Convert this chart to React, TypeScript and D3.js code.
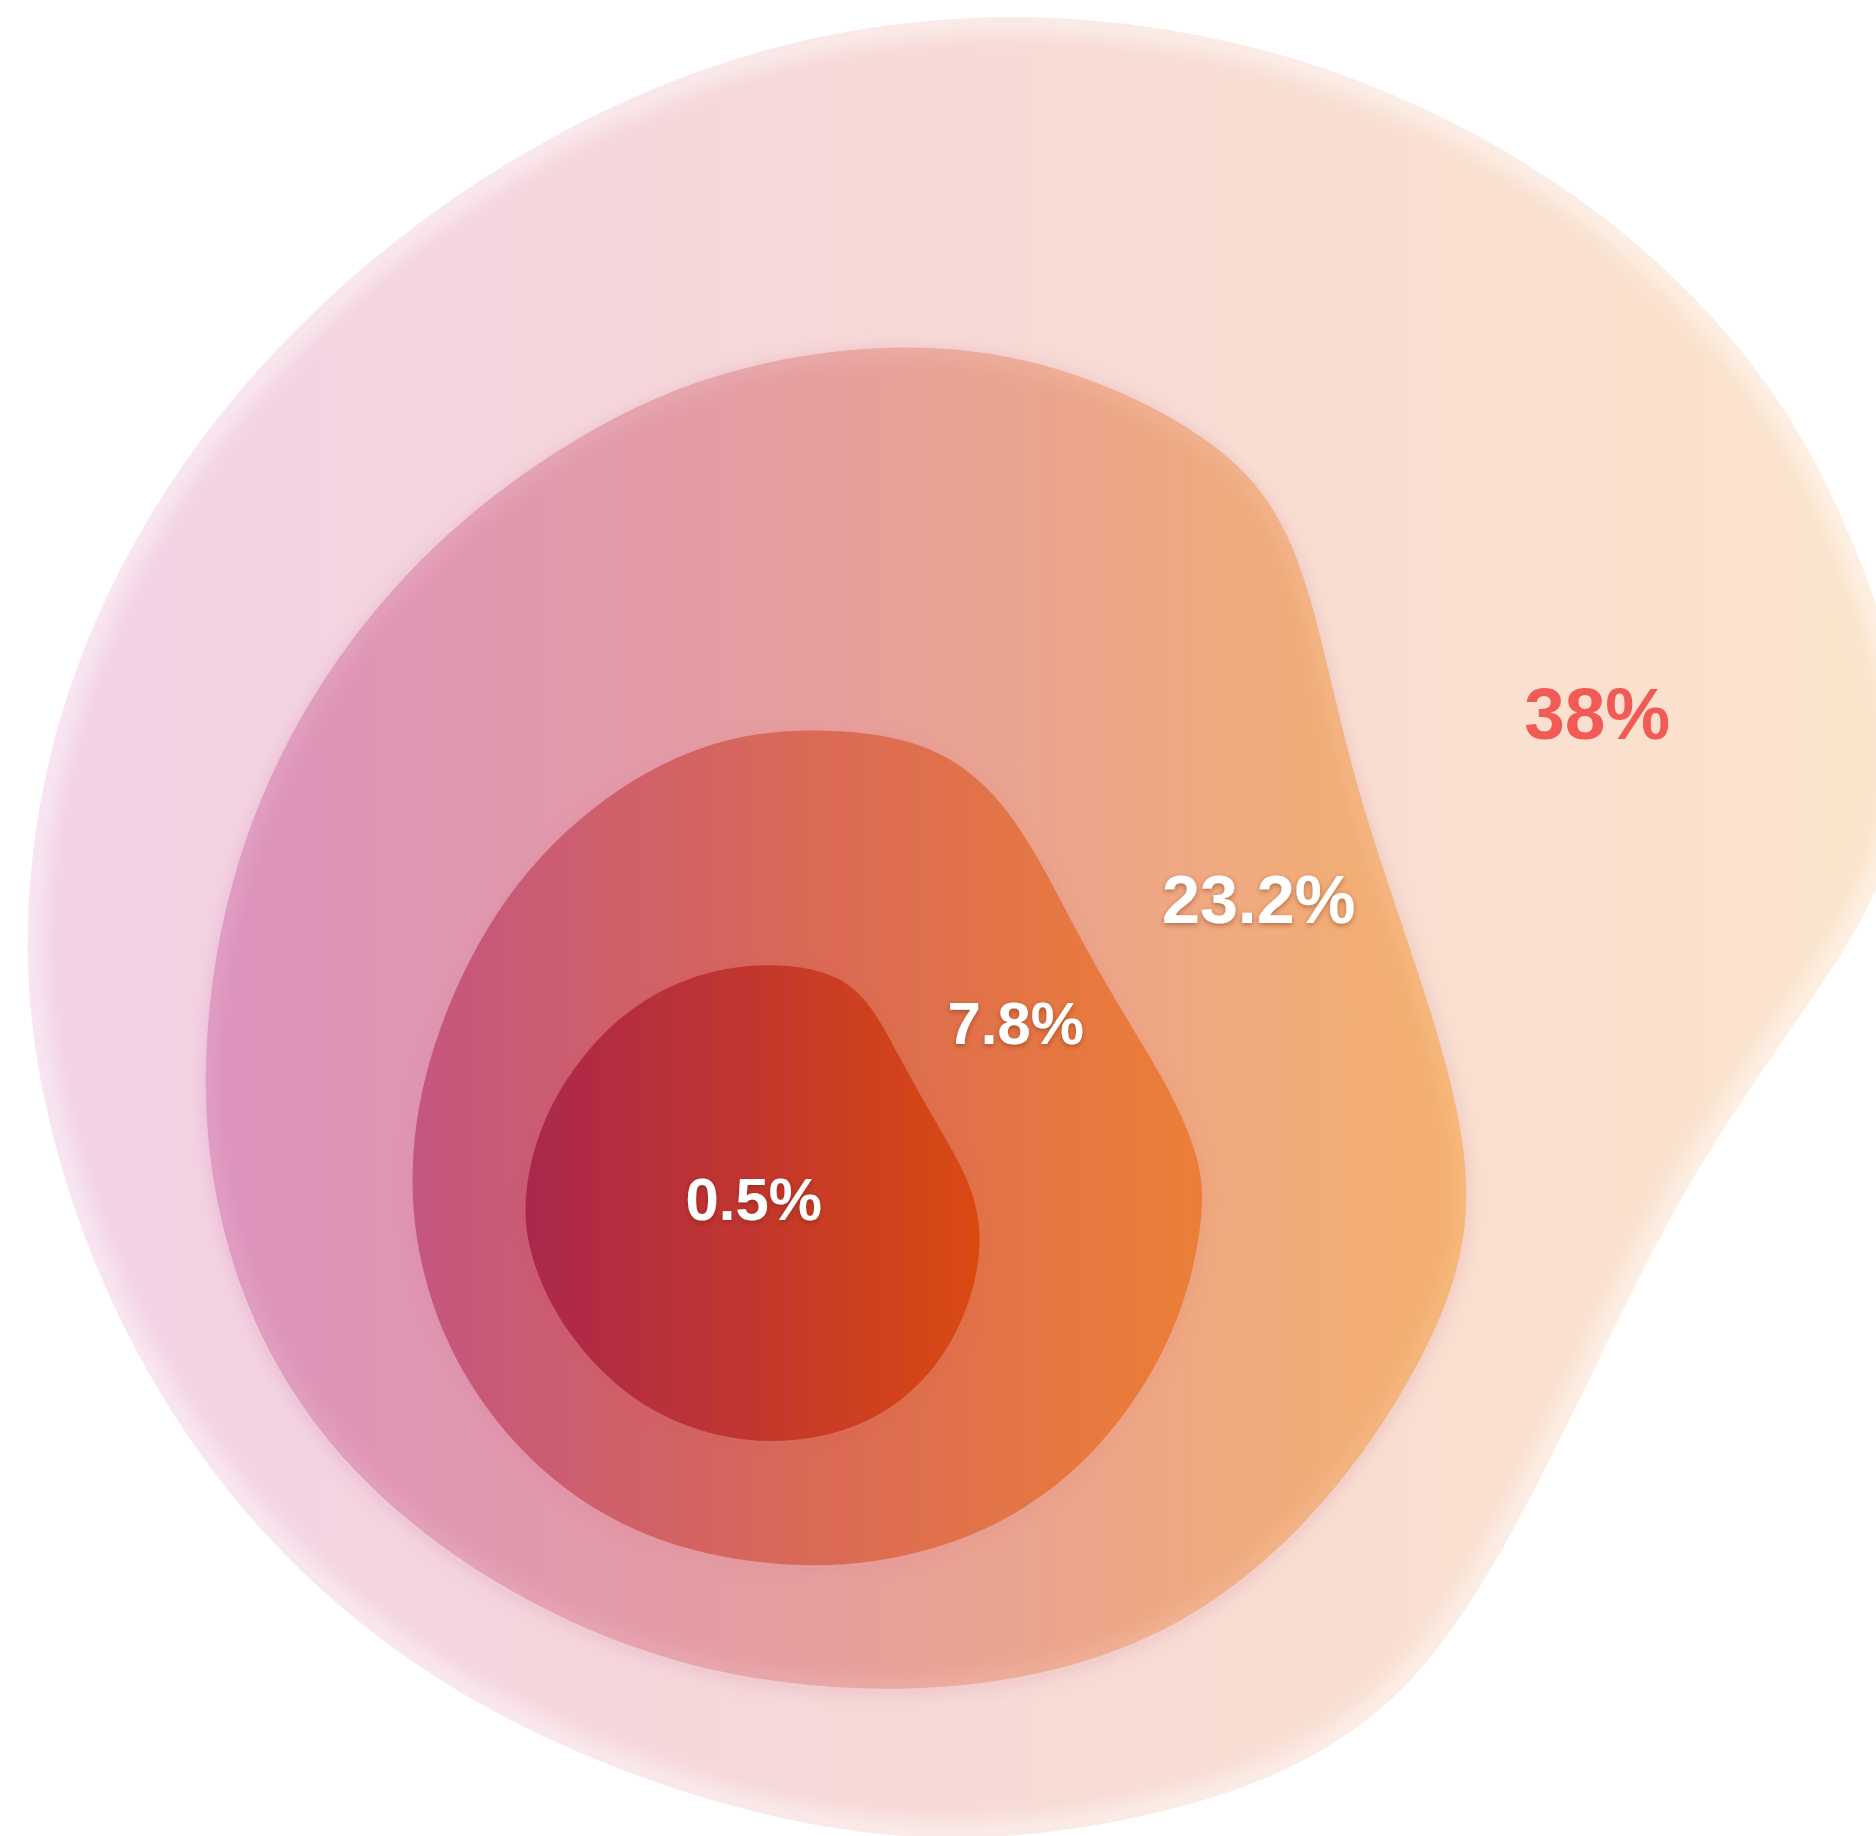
import React, { useEffect, useRef } from 'react';
import * as d3 from 'd3';

// share of each nested region, outermost first
const values = [38, 23.2, 7.8, 0.5];
const labels = ['38%', '23.2%', '7.8%', '0.5%'];

// left -> mid -> right colours of each region
const fills = [
  ['#f2d1e7', '#f6d9d8', '#fbe4cb'],
  ['#dc92bd', '#e79f9d', '#f5b06c'],
  ['#c4567f', '#da6957', '#ec7f36'],
  ['#aa284c', '#c2362e', '#da4a10'],
];
const midStop = ['42%', '50%', '50%', '50%'];
const labelColors = ['#f15a55', '#ffffff', '#ffffff', '#ffffff'];

// outlines (reference units 1568 x 1535)
const outerShape: [number, number][] = [
  [830, 8], [1000, 24], [1150, 68], [1300, 146], [1420, 246], [1505, 355], [1562, 480],
  [1605, 620], [1575, 745], [1512, 838], [1452, 925], [1400, 1008], [1350, 1108],
  [1300, 1212], [1250, 1308], [1195, 1392], [1130, 1452], [1040, 1498], [920, 1528],
  [790, 1542], [640, 1522], [480, 1468], [350, 1398], [240, 1308], [150, 1198], [80, 1068],
  [36, 932], [18, 800], [32, 655], [74, 522], [145, 392], [245, 272], [360, 175],
  [490, 95], [650, 32],
];
const midShape: [number, number][] = [
  [730, 286], [845, 294], [950, 330], [1034, 382], [1076, 440], [1099, 510], [1117, 590],
  [1138, 672], [1168, 762], [1202, 862], [1224, 950], [1228, 1020], [1212, 1088],
  [1172, 1168], [1110, 1256], [1030, 1332], [940, 1382], [830, 1410], [700, 1415],
  [560, 1393], [425, 1335], [303, 1246], [218, 1132], [175, 1000], [168, 870],
  [192, 725], [250, 592], [335, 478], [445, 385], [580, 312],
];
const innerShape: [number, number][] = [
  [680, 608], [764, 616], [822, 650], [862, 705], [894, 768], [934, 840], [978, 910],
  [1003, 968], [1007, 1010], [994, 1082], [962, 1155], [902, 1232], [822, 1284],
  [730, 1309], [640, 1310], [540, 1289], [450, 1234], [381, 1147], [348, 1055],
  [341, 965], [362, 862], [420, 745], [505, 662], [598, 616],
];
const coreShape: [number, number][] = [
  [630, 804], [692, 810], [726, 834], [752, 885], [782, 938], [810, 985], [822, 1030],
  [814, 1084], [786, 1143], [735, 1188], [670, 1207], [600, 1204], [528, 1174],
  [471, 1114], [442, 1052], [436, 1000], [454, 928], [504, 858], [566, 818],
];
const outlines = [outerShape, midShape, innerShape, coreShape];

// label anchors (centre x, baseline y) and sizes
const labelPos: [number, number][] = [[1335, 618], [1052, 772], [849, 873], [630, 1020]];
const labelSize = [61, 57, 50, 50];

// edge treatment per region
const rimWidth = [34, 20, 0, 0];
const rimOpacity = [0.45, 0.12, 0, 0];
const shadowOpacity = [0, 0.14, 0.07, 0.05];

const W = 1876;
const H = 1836;

const App = () => {
  const ref = useRef<SVGSVGElement>(null);

  useEffect(() => {
    document.body.style.margin = '0';
    const svg = d3.select(ref.current);
    svg.selectAll('*').remove();

    const x = d3.scaleLinear().domain([0, 1568]).range([0, W]);
    const y = d3.scaleLinear().domain([0, 1535]).range([0, H]);
    const k = W / 1568;

    const line = d3.line<[number, number]>()
      .x(d => x(d[0]))
      .y(d => y(d[1]))
      .curve(d3.curveBasisClosed);

    const defs = svg.append('defs');

    fills.forEach((f, i) => {
      const g = defs.append('linearGradient')
        .attr('id', 'grad' + i)
        .attr('x1', 0).attr('x2', 1).attr('y1', 0).attr('y2', 0);
      g.append('stop').attr('offset', '0%').attr('stop-color', f[0]);
      g.append('stop').attr('offset', midStop[i]).attr('stop-color', f[1]);
      g.append('stop').attr('offset', '100%').attr('stop-color', f[2]);
      defs.append('clipPath').attr('id', 'clip' + i)
        .append('path').attr('d', line(outlines[i]));
      defs.append('filter').attr('id', 'shadow' + i)
        .attr('x', '-20%').attr('y', '-20%').attr('width', '140%').attr('height', '140%')
        .append('feDropShadow')
        .attr('dx', 0).attr('dy', 3).attr('stdDeviation', 10)
        .attr('flood-color', '#a8385a').attr('flood-opacity', shadowOpacity[i]);
    });

    defs.append('filter').attr('id', 'blur')
      .attr('x', '-20%').attr('y', '-20%').attr('width', '140%').attr('height', '140%')
      .append('feGaussianBlur').attr('stdDeviation', 9);

    defs.append('filter').attr('id', 'textShadow')
      .attr('x', '-20%').attr('y', '-30%').attr('width', '140%').attr('height', '160%')
      .append('feDropShadow')
      .attr('dx', 0).attr('dy', 2).attr('stdDeviation', 2.5)
      .attr('flood-color', '#6a2010').attr('flood-opacity', 0.45);

    const layers = svg.append('g');

    outlines.forEach((pts, i) => {
      const g = layers.append('g');
      g.append('path')
        .attr('d', line(pts))
        .attr('fill', 'url(#grad' + i + ')')
        .attr('filter', shadowOpacity[i] > 0 ? 'url(#shadow' + i + ')' : null);
      if (rimWidth[i] > 0) {
        // soft light rim inside the edge
        g.append('g')
          .attr('clip-path', 'url(#clip' + i + ')')
          .append('path')
          .attr('d', line(pts))
          .attr('fill', 'none')
          .attr('stroke', '#ffffff')
          .attr('stroke-width', rimWidth[i])
          .attr('stroke-opacity', rimOpacity[i])
          .attr('filter', 'url(#blur)');
      }
    });

    svg.append('g')
      .selectAll('text')
      .data(values)
      .join('text')
      .attr('x', (d, i) => x(labelPos[i][0]))
      .attr('y', (d, i) => y(labelPos[i][1]))
      .attr('text-anchor', 'middle')
      .attr('font-family', '"Liberation Sans", Arial, Helvetica, sans-serif')
      .attr('font-weight', 700)
      .attr('font-size', (d, i) => labelSize[i] * k)
      .attr('fill', (d, i) => labelColors[i])
      .attr('filter', (d, i) => (i > 0 ? 'url(#textShadow)' : null))
      .text((d, i) => labels[i]);
  }, []);

  return <svg ref={ref} width={W} height={H} style={{ display: 'block' }} />;
};

export default App;
